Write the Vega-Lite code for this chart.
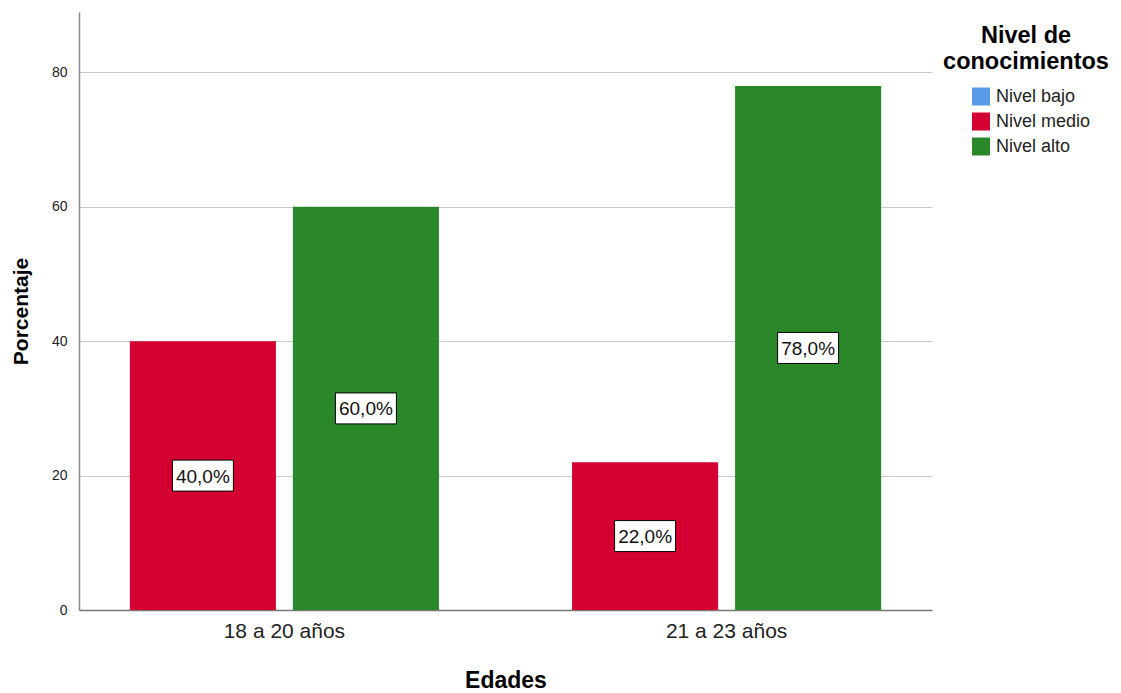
{
  "$schema": "https://vega.github.io/schema/vega-lite/v6.json",
  "width": 853,
  "height": 598,
  "autosize": {"type": "none"},
  "padding": {"left": 79, "top": 12, "right": 189, "bottom": 83},
  "background": "white",
  "config": {
    "view": {"stroke": null},
    "font": "Liberation Sans",
    "axis": {"labelFont": "Liberation Sans", "titleFont": "Liberation Sans"},
    "legend": {"labelFont": "Liberation Sans", "titleFont": "Liberation Sans"}
  },
  "data": {
    "values": [
      {"Edad": "18 a 20 años", "Nivel": "Nivel medio", "Porcentaje": 40, "Etiqueta": "40,0%"},
      {"Edad": "18 a 20 años", "Nivel": "Nivel alto", "Porcentaje": 60, "Etiqueta": "60,0%"},
      {"Edad": "21 a 23 años", "Nivel": "Nivel medio", "Porcentaje": 22, "Etiqueta": "22,0%"},
      {"Edad": "21 a 23 años", "Nivel": "Nivel alto", "Porcentaje": 78, "Etiqueta": "78,0%"}
    ]
  },
  "encoding": {
    "x": {
      "field": "Edad",
      "type": "nominal",
      "scale": {"paddingInner": 0.301, "paddingOuter": 0.115},
      "axis": {
        "title": "Edades",
        "labelAngle": 0,
        "labelFontSize": 21,
        "labelColor": "#222222",
        "labelPadding": 10,
        "ticks": false,
        "domainColor": "#777777",
        "domainWidth": 1.5,
        "titleFontSize": 23,
        "titleFontWeight": "bold",
        "titleColor": "#000000",
        "titlePadding": 28,
        "grid": false
      }
    },
    "xOffset": {
      "field": "Nivel",
      "type": "nominal",
      "sort": ["Nivel medio", "Nivel alto"],
      "scale": {"paddingInner": 0.104, "paddingOuter": 0}
    }
  },
  "layer": [
    {
      "mark": {"type": "bar"},
      "encoding": {
        "y": {
          "field": "Porcentaje",
          "type": "quantitative",
          "scale": {"domain": [0, 89], "nice": false},
          "axis": {
            "title": "Porcentaje",
            "values": [0, 20, 40, 60, 80],
            "labelFontSize": 14,
            "labelColor": "#222222",
            "labelPadding": 12,
            "ticks": false,
            "domainColor": "#888888",
            "domainWidth": 1.5,
            "gridColor": "#c8c8c8",
            "gridWidth": 1.2,
            "titleFontSize": 21,
            "titleFontWeight": "bold",
            "titleColor": "#000000",
            "titlePadding": 20
          }
        },
        "color": {
          "field": "Nivel",
          "type": "nominal",
          "scale": {
            "domain": ["Nivel bajo", "Nivel medio", "Nivel alto"],
            "range": ["#5a9be6", "#d50032", "#2a882a"]
          },
          "legend": {
            "title": ["Nivel de", "conocimientos"],
            "orient": "none",
            "legendX": 864,
            "legendY": 12,
            "titleAnchor": "middle",
            "titleAlign": "center",
            "titleFontSize": 23.5,
            "titleFontWeight": "bold",
            "titleColor": "#000000",
            "titleLineHeight": 26,
            "titlePadding": 14,
            "symbolType": "square",
            "symbolSize": 324,
            "symbolStrokeWidth": 0,
            "symbolOffset": 11,
            "labelFontSize": 18,
            "labelColor": "#222222",
            "labelOffset": 6,
            "rowPadding": 7
          }
        }
      }
    },
    {
      "mark": {
        "type": "point",
        "shape": "M-1,-0.508H1V0.508H-1Z",
        "size": 3721,
        "filled": true,
        "fill": "white",
        "stroke": "black",
        "strokeWidth": 1,
        "opacity": 1
      },
      "encoding": {
        "y": {
          "field": "Porcentaje",
          "type": "quantitative",
          "scale": {"domain": [0, 178], "nice": false},
          "axis": null
        }
      }
    },
    {
      "mark": {"type": "text", "fontSize": 19, "color": "#111111", "baseline": "middle", "align": "center", "dy": 1},
      "encoding": {
        "y": {
          "field": "Porcentaje",
          "type": "quantitative",
          "scale": {"domain": [0, 178], "nice": false},
          "axis": null
        },
        "text": {"field": "Etiqueta"}
      }
    }
  ],
  "resolve": {"scale": {"y": "independent"}}
}
